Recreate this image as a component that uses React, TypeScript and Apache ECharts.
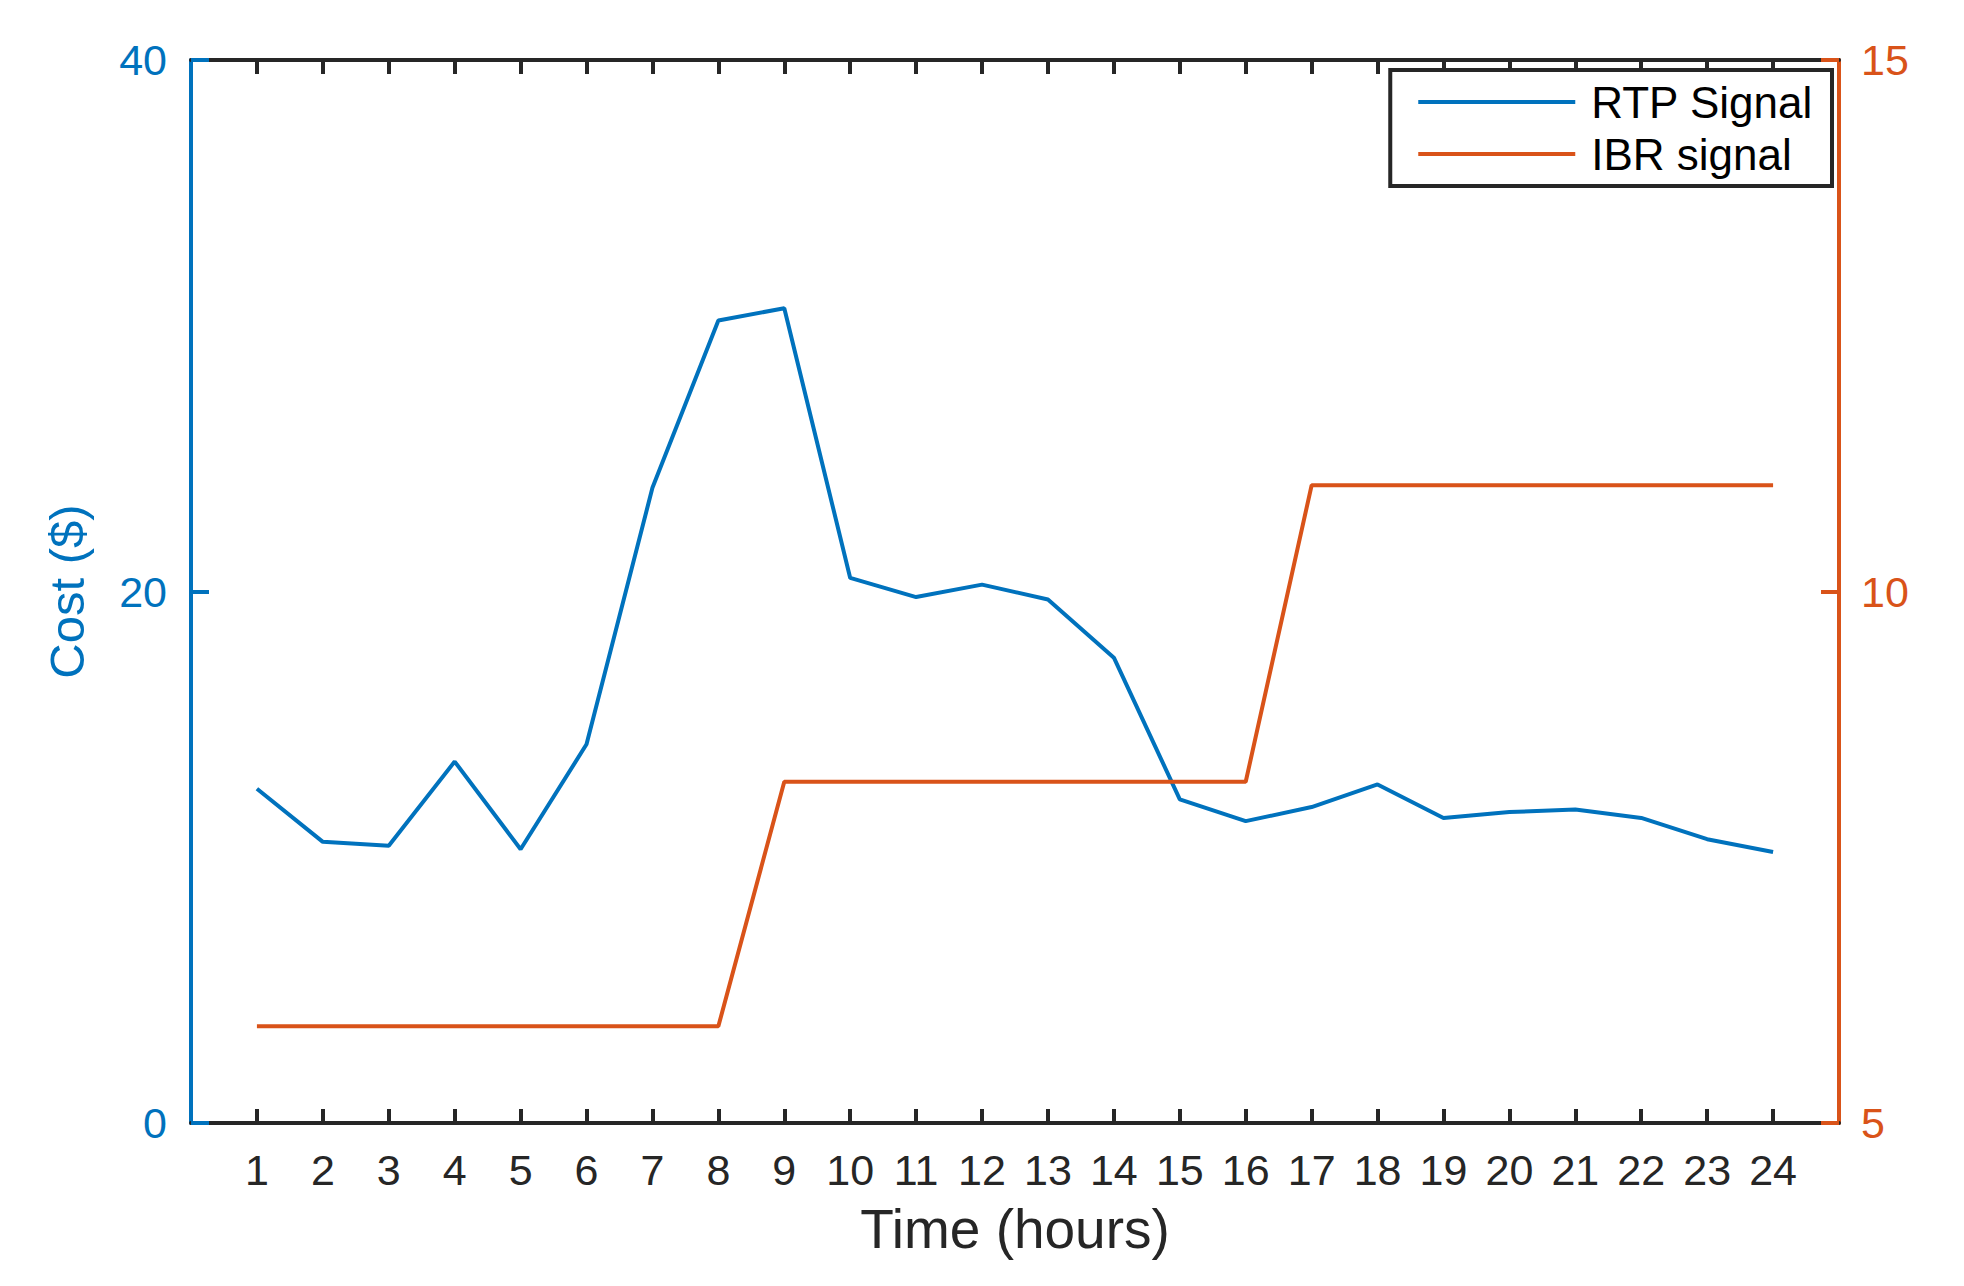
import React, { useEffect, useRef } from "react";
import * as echarts from "echarts";

const hours = [1, 2, 3, 4, 5, 6, 7, 8, 9, 10, 11, 12, 13, 14, 15, 16, 17, 18, 19, 20, 21, 22, 23, 24];
const rtpSignal = [
  12.58, 10.58, 10.43, 13.6, 10.3, 14.25, 23.9, 30.2, 30.66, 20.51, 19.79, 20.26,
  19.7, 17.51, 12.18, 11.36, 11.89, 12.74, 11.48, 11.7, 11.8, 11.48, 10.68, 10.2,
];
const ibrSignal = [
  5.91, 5.91, 5.91, 5.91, 5.91, 5.91, 5.91, 5.91, 8.21, 8.21, 8.21, 8.21,
  8.21, 8.21, 8.21, 8.21, 11.0, 11.0, 11.0, 11.0, 11.0, 11.0, 11.0, 11.0,
];
const seriesNames = ["RTP Signal", "IBR signal"];
const leftAxisName = "Cost ($)";
const xAxisName = "Time (hours)";

const BLUE = "#0072BD";
const ORANGE = "#D95319";
const DARK = "#262626";
const FONT = "'Liberation Sans', Arial, Helvetica, sans-serif";

export default function App() {
  const ref = useRef<HTMLDivElement>(null);
  useEffect(() => {
    if (!ref.current) return;
    const chart = echarts.init(ref.current, null, { renderer: "svg" });
    const xCommon = {
      type: "value" as const,
      min: 0,
      max: 25,
      interval: 1,
      splitLine: { show: false },
      axisLine: { show: true, onZero: false, lineStyle: { color: DARK, width: 4 } },
      axisTick: {
        show: true,
        inside: true,
        length: 14,
        customValues: hours,
        lineStyle: { color: DARK, width: 4 },
      },
    };
    chart.setOption({
      animation: false,
      backgroundColor: "#ffffff",
      textStyle: { fontFamily: FONT },
      grid: { left: 191, right: 125, top: 60, bottom: 163, containLabel: false },
      legend: {
        right: 132,
        top: 70,
        orient: "vertical",
        icon: "rect",
        itemWidth: 157,
        itemHeight: 4,
        itemGap: 8,
        padding: [10, 19, 10, 28],
        borderColor: DARK,
        borderWidth: 4,
        backgroundColor: "#ffffff",
        textStyle: {
          fontSize: 44,
          lineHeight: 44,
          color: "#000000",
          fontFamily: FONT,
          padding: [0, 0, 0, 11],
        },
        data: seriesNames,
      },
      xAxis: [
        {
          ...xCommon,
          position: "bottom",
          name: xAxisName,
          nameLocation: "middle",
          nameGap: 78,
          nameTextStyle: { fontSize: 55, color: DARK, fontFamily: FONT },
          axisLabel: {
            show: true,
            customValues: hours,
            fontSize: 43,
            color: DARK,
            margin: 25,
            fontFamily: FONT,
            formatter: (v: number) => (v >= 1 && v <= 24 ? String(v) : ""),
          },
        },
        {
          ...xCommon,
          position: "top",
          axisLabel: { show: false },
        },
      ],
      yAxis: [
        {
          type: "value",
          position: "left",
          min: 0,
          max: 40,
          interval: 20,
          splitLine: { show: false },
          axisLine: { show: true, onZero: false, lineStyle: { color: BLUE, width: 4 } },
          axisTick: { show: true, inside: true, length: 18, lineStyle: { color: BLUE, width: 4 } },
          axisLabel: { fontSize: 43, color: BLUE, margin: 24, fontFamily: FONT },
          name: leftAxisName,
          nameLocation: "middle",
          nameGap: 100,
          nameRotate: 90,
          nameTextStyle: { fontSize: 49, color: BLUE, fontFamily: FONT },
        },
        {
          type: "value",
          position: "right",
          min: 5,
          max: 15,
          interval: 5,
          splitLine: { show: false },
          axisLine: { show: true, onZero: false, lineStyle: { color: ORANGE, width: 4 } },
          axisTick: { show: true, inside: true, length: 18, lineStyle: { color: ORANGE, width: 4 } },
          axisLabel: { fontSize: 43, color: ORANGE, margin: 22, fontFamily: FONT },
        },
      ],
      series: [
        {
          name: seriesNames[0],
          type: "line",
          xAxisIndex: 0,
          yAxisIndex: 0,
          symbol: "none",
          showSymbol: false,
          color: BLUE,
          lineStyle: { color: BLUE, width: 4 },
          data: hours.map((h, i) => [h, rtpSignal[i]]),
        },
        {
          name: seriesNames[1],
          type: "line",
          xAxisIndex: 0,
          yAxisIndex: 1,
          symbol: "none",
          showSymbol: false,
          color: ORANGE,
          lineStyle: { color: ORANGE, width: 4 },
          data: hours.map((h, i) => [h, ibrSignal[i]]),
        },
      ],
    });
    return () => chart.dispose();
  }, []);
  return (
    <div
      ref={ref}
      style={{ position: "fixed", left: 0, top: 0, width: 1964, height: 1286, background: "#fff" }}
    />
  );
}
